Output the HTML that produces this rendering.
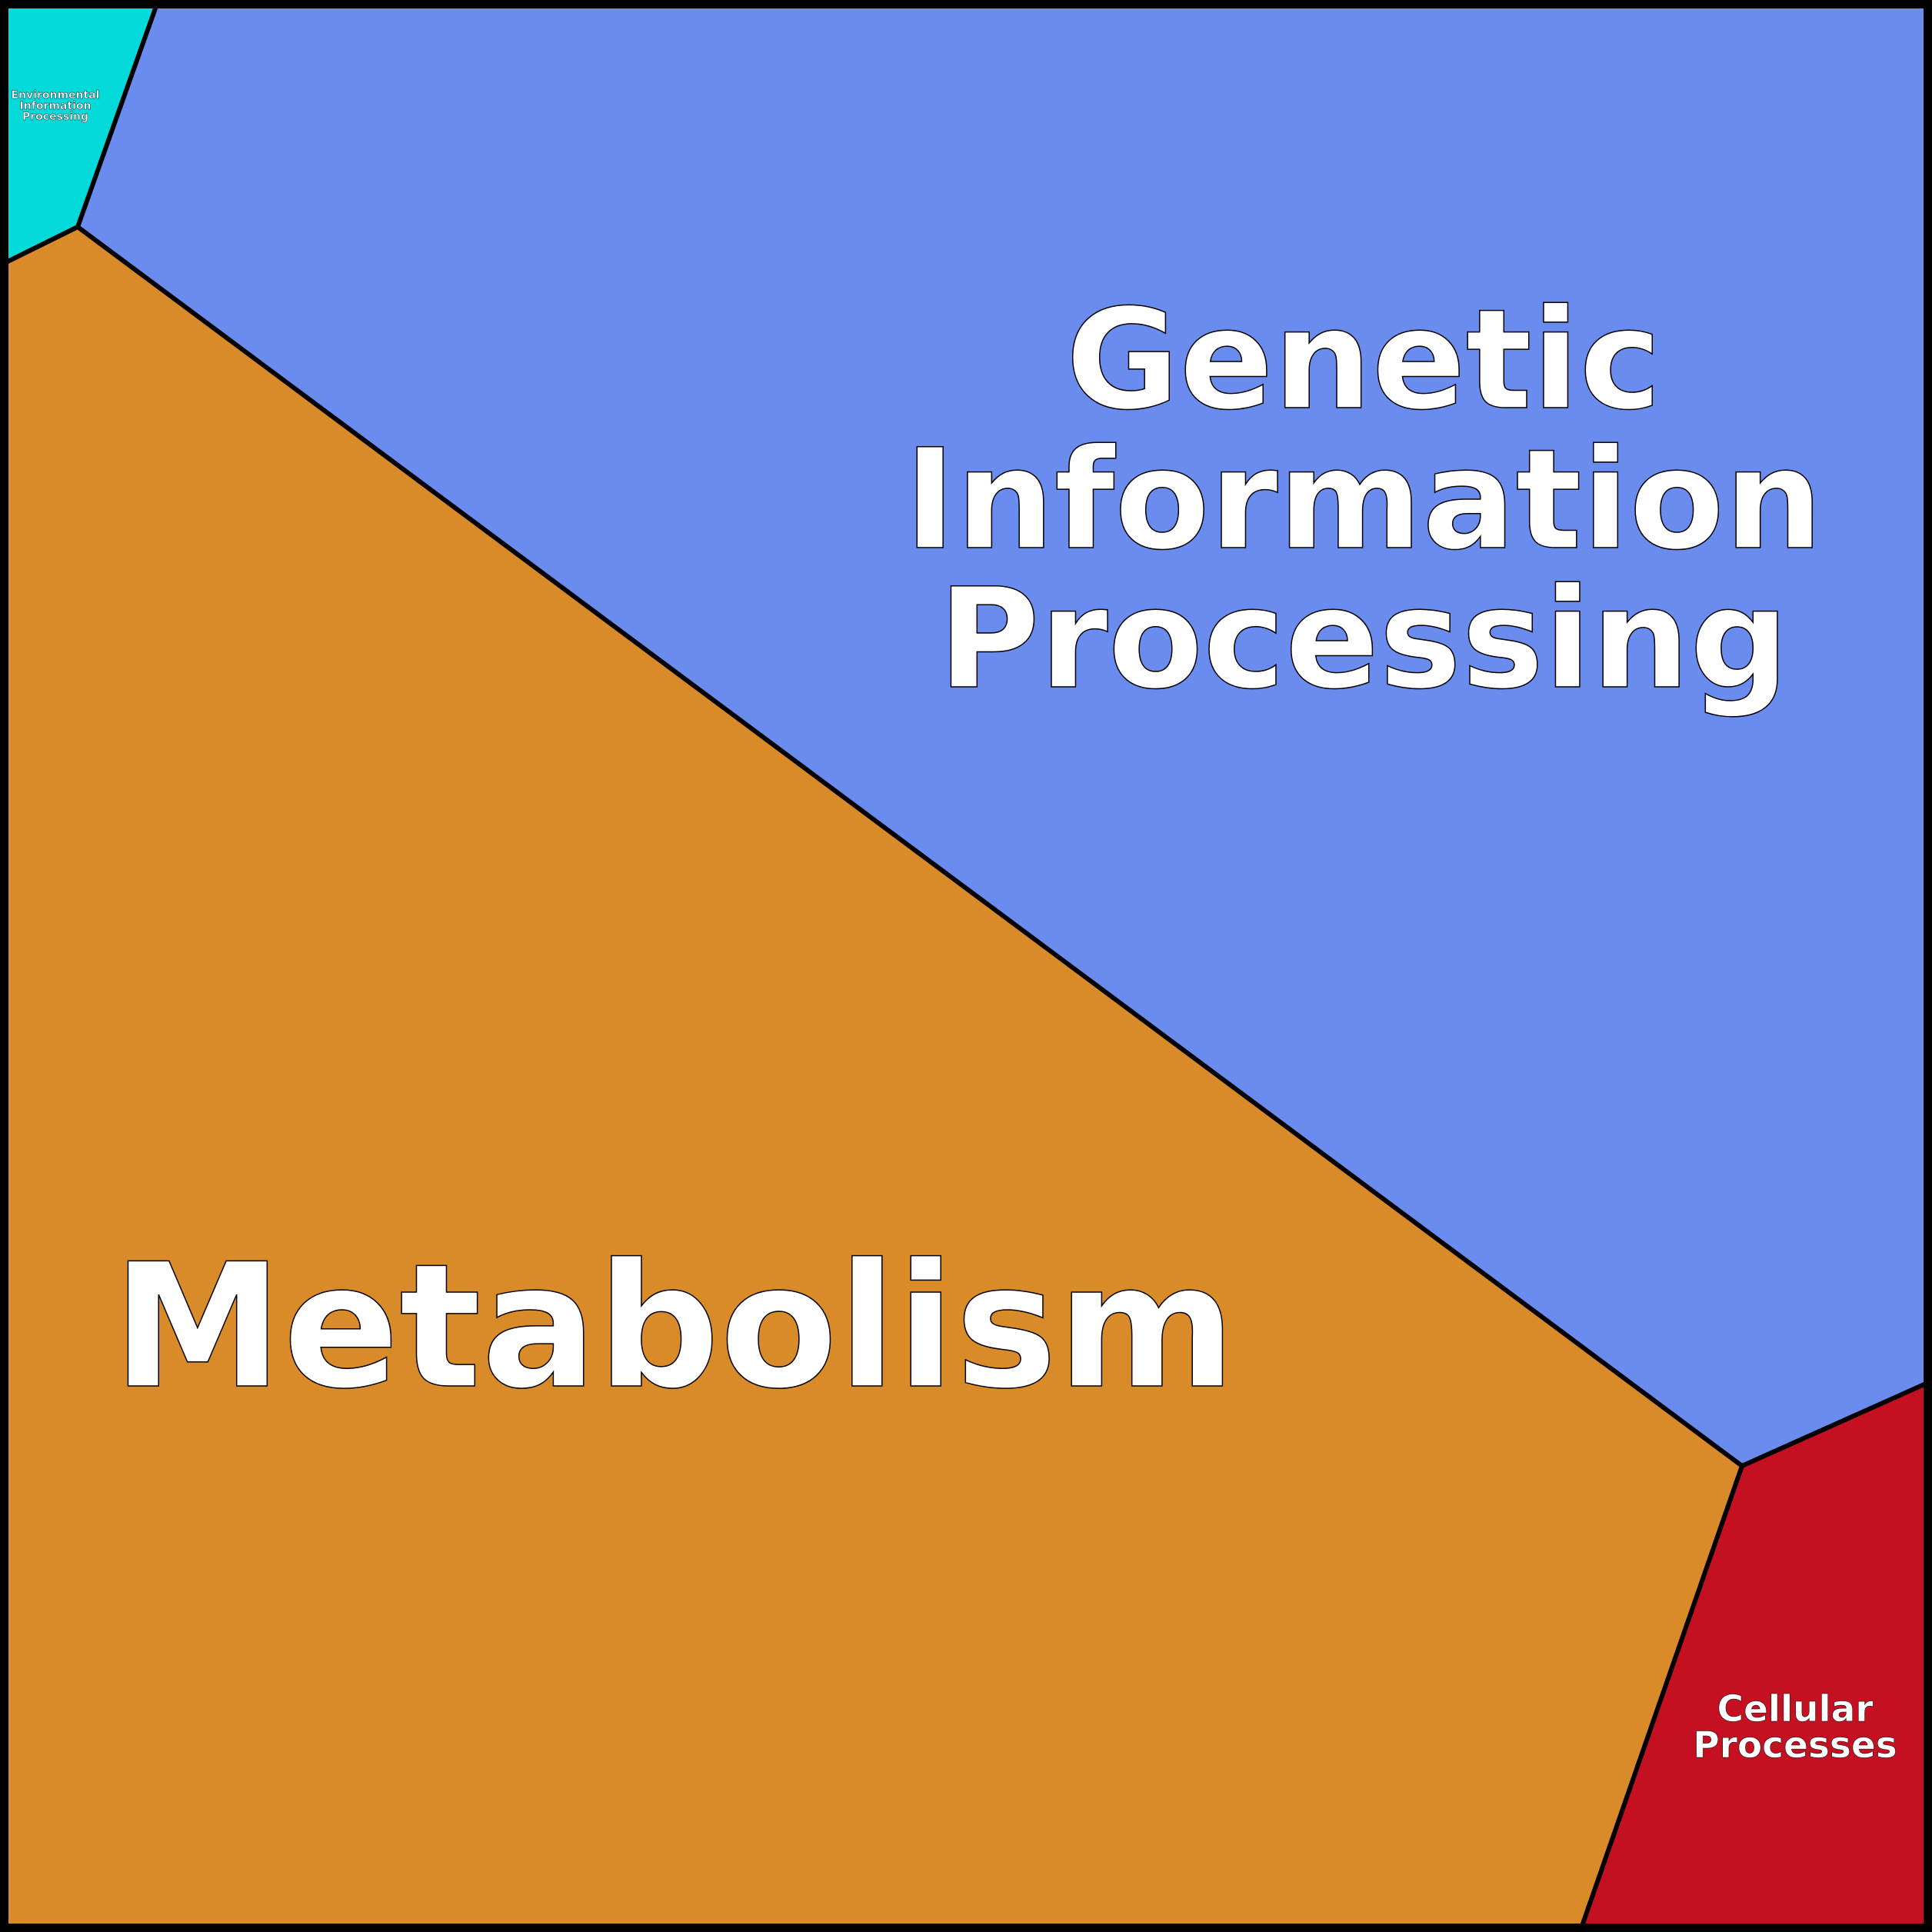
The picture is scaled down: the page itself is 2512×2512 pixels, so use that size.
<!DOCTYPE html>
<html><head><meta charset="utf-8"><style>html,body{margin:0;padding:0;background:#fff}svg{display:block}</style></head>
<body>
<svg width="2512" height="2512" viewBox="0 0 2512 2512" xmlns="http://www.w3.org/2000/svg">
<rect x="0" y="0" width="2512" height="2512" fill="#d98b29"/>
<polygon points="203,8 2504,8 2504,1799 2265,1906 101,295" fill="#6a8cee"/>
<polygon points="2265,1906 2504,1799 2504,2504 2057,2504" fill="#c51022"/>
<polygon points="8,8 203,8 101,295 8,341" fill="#05dadb"/>
<g fill="none" stroke="#000" stroke-width="6" stroke-linejoin="round">
<polyline points="203,8 101,295 8,341"/>
<polyline points="101,295 2265,1906 2504,1799"/>
<polyline points="2265,1906 2057,2504"/>
</g>
<rect x="5.5" y="5.5" width="2501" height="2501" fill="none" stroke="#000" stroke-width="11"/>
<g font-family="DejaVu Sans, Liberation Sans, sans-serif" font-weight="bold" fill="#fff" stroke="#000" stroke-width="1.5" text-anchor="middle">
<text x="1773" y="530" font-size="180">Genetic</text>
<text x="1773" y="712" font-size="180">Information</text>
<text x="1773" y="893" font-size="180">Processing</text>
<text x="146" y="1802" font-size="223" text-anchor="start">Metabolism</text>
<text x="2334" y="2238" font-size="47" stroke-width="0.5">Cellular</text>
<text x="2334" y="2285" font-size="47" stroke-width="0.5">Processes</text>
<text x="72" y="128" font-size="14" stroke-width="0.4">Environmental</text>
<text x="72" y="142" font-size="14" stroke-width="0.4">Information</text>
<text x="72" y="156" font-size="14" stroke-width="0.4">Processing</text>
</g>
</svg>
</body></html>
